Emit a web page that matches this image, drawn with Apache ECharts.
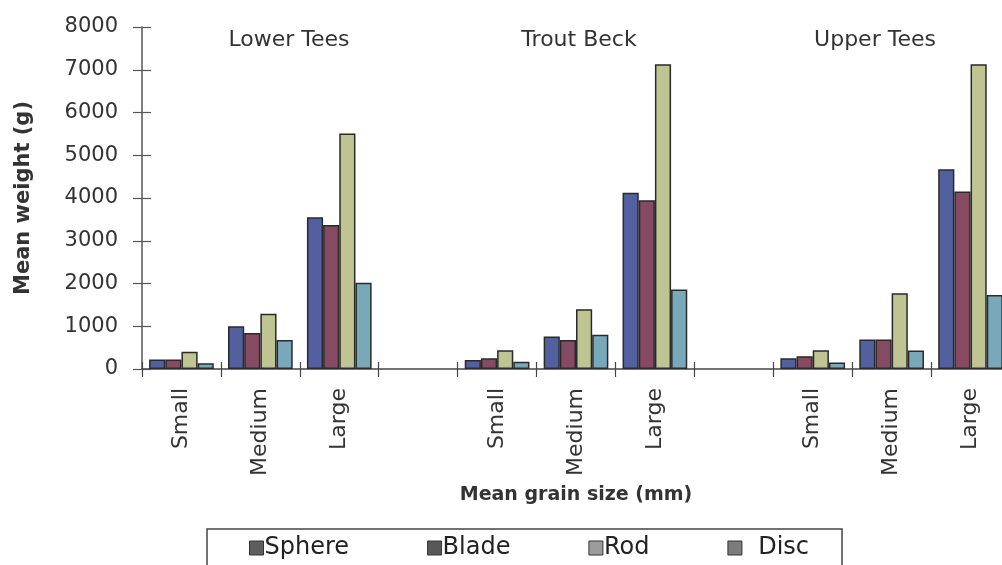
<!DOCTYPE html>
<html>
<head>
<meta charset="utf-8">
<script src="https://cdn.jsdelivr.net/npm/echarts@6/dist/echarts.min.js"></script>
<style>
html,body{margin:0;padding:0;background:#fff;}
#chart{width:1002px;height:565px;}
</style>
</head>
<body>
<div id="chart"></div>
<script>
// ---- data ----
const sites = ['Lower Tees', 'Trout Beck', 'Upper Tees'];
const sizes = ['Small', 'Medium', 'Large'];
const shapes = ['Sphere', 'Blade', 'Rod', 'Disc'];
// values per shape, ordered site by site (Small, Medium, Large)
const sphereValues = [225, 1000, 3550,  210, 760, 4120,  250, 690, 4670];
const bladeValues  = [225, 840, 3370,   250, 680, 3950,  300, 690, 4150];
const rodValues    = [405, 1290, 5510,  440, 1400, 7130, 440, 1770, 7130];
const discValues   = [133, 680, 2020,   170, 800, 1860,  150, 430, 1730];
const yMin = 0, yMax = 8000, yStep = 1000;

// ---- build ----
const FONT = 'DejaVu Sans';
const categories = [];
sites.forEach((s, i) => {
  sizes.forEach(z => categories.push(s + '|' + z));
  if (i < sites.length - 1) categories.push('gap' + i);
});
function withGaps(vals) {
  const out = [];
  sites.forEach((s, i) => {
    for (let k = 0; k < sizes.length; k++) out.push(vals[i * sizes.length + k]);
    if (i < sites.length - 1) out.push('-');
  });
  return out;
}
const valueSets = [sphereValues, bladeValues, rodValues, discValues];
const barColors = ['#5360a0', '#874a63', '#bec592', '#78a8b9'];
const legendColors = ['#5e5e5e', '#585858', '#9c9c9c', '#7c7c7c'];

const chart = echarts.init(document.getElementById('chart'), null, {renderer: 'canvas'});
const titleLeft = [289, 579, 875];
const option = {
  backgroundColor: '#ffffff',
  animation: false,
  title: sites.map((s, i) => ({
    text: s, left: titleLeft[i], top: 29, textAlign: 'center', padding: 0,
    textStyle: {fontFamily: FONT, fontSize: 22, fontWeight: 'normal', color: '#333'}
  })),
  legend: {
    left: 207, top: 529,
    padding: [7, 33, 10, 42],
    itemGap: 78,
    itemWidth: 14, itemHeight: 14,
    icon: 'rect',
    borderColor: '#444', borderWidth: 1.5,
    textStyle: {fontFamily: FONT, fontSize: 24, color: '#222', padding: [0, 0, 0, -4]},
    formatter: n => n === 'Disc' ? '  ' + n : n,
    data: shapes.map((n, i) => ({
      name: n,
      itemStyle: {color: legendColors[i], borderColor: '#333', borderWidth: 1}
    }))
  },
  grid: {left: 142, top: 27, width: 868, height: 342, containLabel: false, outerBoundsMode: 'none'},
  xAxis: [{
    type: 'category',
    data: categories,
    boundaryGap: true,
    axisLine: {lineStyle: {color: '#444', width: 1.5}},
    axisTick: {show: true, length: 8, interval: 0, lineStyle: {color: '#444', width: 1.2}},
    axisLabel: {
      interval: 0, rotate: 90, margin: 19,
      fontFamily: FONT, fontSize: 22, color: '#333',
      formatter: v => (v.split('|')[1] || '')
    },
    name: 'Mean grain size (mm)',
    nameLocation: 'middle',
    nameGap: 117,
    nameTextStyle: {fontFamily: FONT, fontSize: 19, fontWeight: 'bold', color: '#333'}
  }, {
    type: 'category',
    data: categories,
    position: 'bottom',
    boundaryGap: true,
    axisLine: {show: false},
    axisTick: {show: true, inside: true, length: 7, interval: 0, lineStyle: {color: '#444', width: 1.2}},
    axisLabel: {show: false}
  }],
  yAxis: [{
    type: 'value',
    min: yMin, max: yMax, interval: yStep,
    splitLine: {show: false},
    axisLine: {show: true, lineStyle: {color: '#555', width: 1.5}},
    axisTick: {show: true, length: 9, lineStyle: {color: '#555', width: 1.2}},
    axisLabel: {margin: 24, fontFamily: FONT, fontSize: 21, color: '#333', formatter: v => String(v)},
    name: 'Mean weight (g)',
    nameLocation: 'middle',
    nameGap: 108,
    nameTextStyle: {fontFamily: FONT, fontSize: 21, fontWeight: 'bold', color: '#333'}
  }, {
    type: 'value',
    position: 'left',
    min: yMin, max: yMax, interval: yStep,
    splitLine: {show: false},
    axisLine: {show: false},
    axisTick: {show: true, inside: true, length: 9, lineStyle: {color: '#555', width: 1.2}},
    axisLabel: {show: false}
  }],
  series: shapes.map((n, i) => ({
    name: n,
    type: 'bar',
    xAxisIndex: 0, yAxisIndex: 0,
    data: withGaps(valueSets[i]),
    barGap: '0%',
    barCategoryGap: '18%',
    itemStyle: {color: barColors[i], borderColor: '#2a2a2a', borderWidth: 1.5}
  }))
};
chart.setOption(option);
</script>
</body>
</html>
